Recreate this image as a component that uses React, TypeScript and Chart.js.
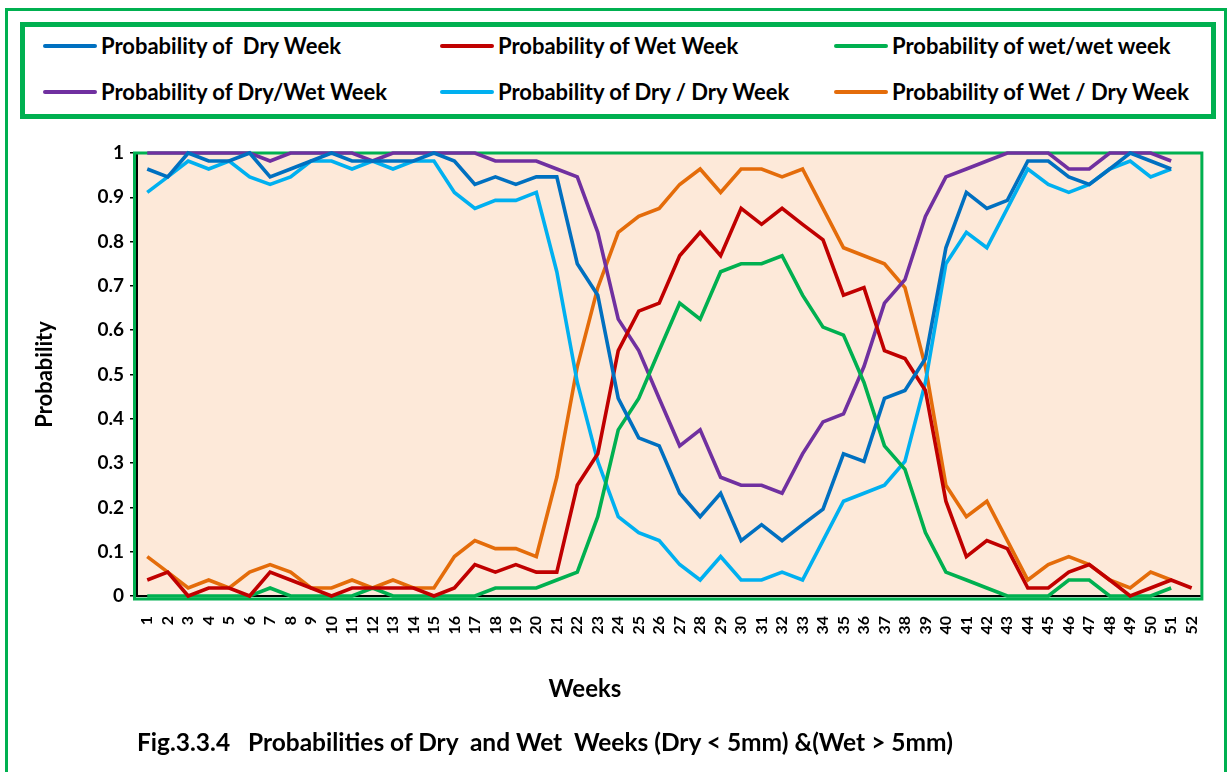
import { useEffect, useRef } from "react";
import { Chart, registerables } from "chart.js";

Chart.register(...registerables);

const weeks = [
  "1","2","3","4","5","6","7","8","9","10","11","12","13","14","15","16","17","18","19","20",
  "21","22","23","24","25","26","27","28","29","30","31","32","33","34","35","36","37","38","39","40",
  "41","42","43","44","45","46","47","48","49","50","51","52",
];

const dryWeek = [
  0.964, 0.946, 1.0, 0.982, 0.982, 1.0, 0.946, 0.964, 0.982, 1.0,
  0.982, 0.982, 0.982, 0.982, 1.0, 0.982, 0.929, 0.946, 0.929, 0.946,
  0.946, 0.75, 0.679, 0.446, 0.357, 0.339, 0.232, 0.179, 0.232, 0.125,
  0.161, 0.125, 0.161, 0.196, 0.321, 0.304, 0.446, 0.464, 0.536, 0.786,
  0.911, 0.875, 0.893, 0.982, 0.982, 0.946, 0.929, 0.964, 1.0, 0.982,
  0.964,
];

const wetWeek = [
  0.036, 0.054, 0.0, 0.018, 0.018, 0.0, 0.054, 0.036, 0.018, 0.0,
  0.018, 0.018, 0.018, 0.018, 0.0, 0.018, 0.071, 0.054, 0.071, 0.054,
  0.054, 0.25, 0.321, 0.554, 0.643, 0.661, 0.768, 0.821, 0.768, 0.875,
  0.839, 0.875, 0.839, 0.804, 0.679, 0.696, 0.554, 0.536, 0.464, 0.214,
  0.089, 0.125, 0.107, 0.018, 0.018, 0.054, 0.071, 0.036, 0.0, 0.018,
  0.036, 0.018,
];

const wetWetWeek = [
  0, 0, 0, 0, 0, 0, 0.018, 0, 0, 0,
  0, 0.018, 0, 0, 0, 0, 0, 0.018, 0.018, 0.018,
  0.036, 0.054, 0.179, 0.375, 0.446, 0.554, 0.661, 0.625, 0.732, 0.75,
  0.75, 0.768, 0.679, 0.607, 0.589, 0.482, 0.339, 0.286, 0.143, 0.054,
  0.036, 0.018, 0, 0, 0, 0.036, 0.036, 0, 0, 0,
  0.018,
];

const dryWetWeek = [
  1, 1, 1, 1, 1, 1, 0.982, 1, 1, 1,
  1, 0.982, 1, 1, 1, 1, 1, 0.982, 0.982, 0.982,
  0.964, 0.946, 0.821, 0.625, 0.554, 0.446, 0.339, 0.375, 0.268, 0.25,
  0.25, 0.232, 0.321, 0.393, 0.411, 0.518, 0.661, 0.714, 0.857, 0.946,
  0.964, 0.982, 1, 1, 1, 0.964, 0.964, 1, 1, 1,
  0.982,
];

const dryDryWeek = [
  0.911, 0.946, 0.982, 0.964, 0.982, 0.946, 0.929, 0.946, 0.982, 0.982,
  0.964, 0.982, 0.964, 0.982, 0.982, 0.911, 0.875, 0.893, 0.893, 0.911,
  0.732, 0.482, 0.304, 0.179, 0.143, 0.125, 0.071, 0.036, 0.089, 0.036,
  0.036, 0.054, 0.036, 0.125, 0.214, 0.232, 0.25, 0.304, 0.482, 0.75,
  0.821, 0.786, 0.875, 0.964, 0.929, 0.911, 0.929, 0.964, 0.982, 0.946,
  0.964,
];

const wetDryWeek = [
  0.089, 0.054, 0.018, 0.036, 0.018, 0.054, 0.071, 0.054, 0.018, 0.018,
  0.036, 0.018, 0.036, 0.018, 0.018, 0.089, 0.125, 0.107, 0.107, 0.089,
  0.268, 0.518, 0.696, 0.821, 0.857, 0.875, 0.929, 0.964, 0.911, 0.964,
  0.964, 0.946, 0.964, 0.875, 0.786, 0.768, 0.75, 0.696, 0.518, 0.25,
  0.179, 0.214, 0.125, 0.036, 0.071, 0.089, 0.071, 0.036, 0.018, 0.054,
  0.036,
];

const seriesNames = [
  "Probability of  Dry Week",
  "Probability of Wet Week",
  "Probability of wet/wet week",
  "Probability of Dry/Wet Week",
  "Probability of Dry / Dry Week",
  "Probability of Wet / Dry Week",
];

const seriesColors = ["#0070C0", "#C00000", "#00B050", "#7030A0", "#00B0F0", "#E46C0A"];

const seriesData = [dryWeek, wetWeek, wetWetWeek, dryWetWeek, dryDryWeek, wetDryWeek];

const FONT = "Lato, 'Open Sans', sans-serif";
const GREEN = "#00B050";

const plotFrame = {
  id: "plotFrame",
  beforeDraw(chart: any) {
    const { ctx, chartArea } = chart;
    ctx.save();
    ctx.fillStyle = "#FDE9D9";
    ctx.fillRect(chartArea.left, chartArea.top, chartArea.right - chartArea.left, chartArea.bottom - chartArea.top);
    ctx.restore();
  },
  beforeDatasetsDraw(chart: any) {
    const { ctx, chartArea } = chart;
    ctx.save();
    ctx.strokeStyle = GREEN;
    ctx.lineWidth = 3;
    ctx.strokeRect(
      chartArea.left - 2.5,
      chartArea.top,
      chartArea.right - chartArea.left + 2.5,
      chartArea.bottom - chartArea.top + 3
    );
    ctx.restore();
  },
};

export default function App() {
  const canvasRef = useRef<HTMLCanvasElement | null>(null);

  useEffect(() => {
    if (!canvasRef.current) return;
    const chart = new Chart(canvasRef.current, {
      type: "line",
      data: {
        labels: weeks,
        datasets: seriesData.map((d, i) => ({
          label: seriesNames[i],
          data: d,
          borderColor: seriesColors[i],
          backgroundColor: seriesColors[i],
          borderWidth: 3.6,
          pointRadius: 0,
          pointHoverRadius: 0,
          tension: 0,
          fill: false,
          clip: false as any,
        })),
      },
      options: {
        animation: false,
        responsive: false,
        maintainAspectRatio: false,
        layout: { padding: { left: 33, right: 17, top: 153, bottom: 76 } },
        plugins: {
          legend: { display: false },
          tooltip: { enabled: false },
          title: { display: false },
        },
        scales: {
          x: {
            type: "category",
            offset: true,
            afterFit: (scale: any) => {
              scale.height = 100;
            },
            grid: { display: false, drawTicks: false },
            border: { display: true, color: "#000", width: 2 },
            ticks: {
              autoSkip: false,
              minRotation: 90,
              maxRotation: 90,
              padding: 20,
              color: "#000",
              font: { family: FONT, size: 16, weight: "bold" },
            },
          },
          y: {
            min: 0,
            max: 1,
            afterFit: (scale: any) => {
              scale.width = 104;
            },
            grid: {
              drawOnChartArea: false,
              drawTicks: true,
              tickLength: 7,
              color: "#000",
              lineWidth: 1.5,
            },
            border: { display: true, color: "#000", width: 2 },
            ticks: {
              stepSize: 0.1,
              padding: 6,
              color: "#000",
              font: { family: FONT, size: 19, weight: "bold" },
              callback: (v: any) => String(Number(Number(v).toFixed(1))),
            },
            title: {
              display: true,
              text: "Probability",
              color: "#000",
              padding: { top: -1, bottom: 0 },
              font: { family: FONT, size: 22, weight: "bold" },
            },
          },
        },
      },
      plugins: [plotFrame],
    });
    return () => chart.destroy();
  }, []);

  const colX = [43, 440, 834];
  const rowY = [46, 92];

  return (
    <div
      style={{
        position: "absolute",
        left: 0,
        top: 0,
        width: 1231,
        height: 772,
        overflow: "hidden",
        background: "#fff",
        fontFamily: FONT,
        color: "#000",
      }}
    >
      <div
        style={{
          position: "absolute",
          left: 5,
          top: 8,
          width: 1222,
          height: 800,
          border: `3px solid ${GREEN}`,
          boxSizing: "border-box",
        }}
      />
      <div
        style={{
          position: "absolute",
          left: 20,
          top: 22,
          width: 1196,
          height: 97,
          border: `5px solid ${GREEN}`,
          boxSizing: "border-box",
          background: "#fff",
        }}
      />
      {seriesNames.map((name, i) => {
        const col = i % 3;
        const row = Math.floor(i / 3);
        return (
          <div key={name}>
            <div
              style={{
                position: "absolute",
                left: colX[col],
                top: rowY[row] - 2,
                width: 54,
                height: 4,
                borderRadius: 2,
                background: seriesColors[i],
              }}
            />
            <div
              style={{
                position: "absolute",
                left: colX[col] + 58,
                top: rowY[row] - 14,
                fontSize: 22,
                lineHeight: "28px",
                fontWeight: "bold",
                whiteSpace: "pre",
              }}
            >
              {name}
            </div>
          </div>
        );
      })}
      <canvas
        ref={canvasRef}
        width={1231}
        height={772}
        style={{ position: "absolute", left: 0, top: 0, width: 1231, height: 772 }}
      />
      <div
        style={{
          position: "absolute",
          left: 485,
          top: 674,
          width: 200,
          textAlign: "center",
          fontSize: 24,
          lineHeight: "28px",
          fontWeight: "bold",
        }}
      >
        Weeks
      </div>
      <div
        style={{
          position: "absolute",
          left: 137,
          top: 728,
          fontSize: 24.5,
          lineHeight: "28px",
          fontWeight: "bold",
          whiteSpace: "pre",
        }}
      >
        {"Fig.3.3.4   Probabilities of Dry  and Wet  Weeks (Dry < 5mm) &(Wet > 5mm)"}
      </div>
    </div>
  );
}
